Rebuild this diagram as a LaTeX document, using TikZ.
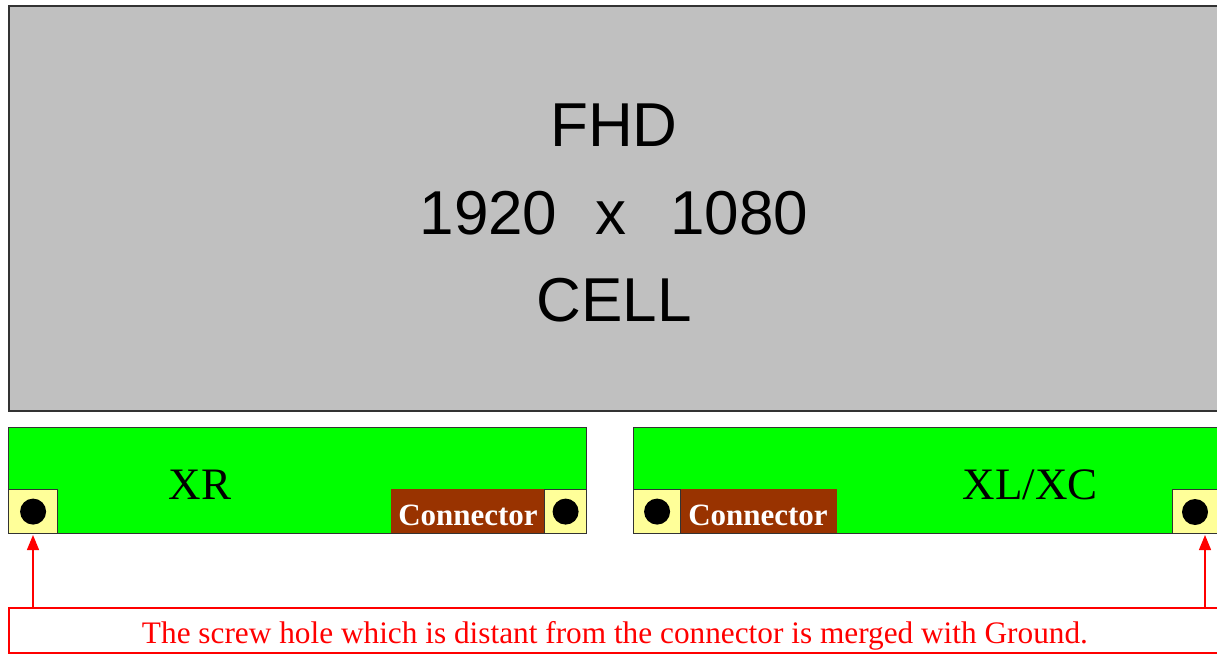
\documentclass[tikz,border=0pt]{standalone}
\usepackage{fontspec}
\setmainfont{Liberation Serif}
\newfontfamily\cellfont{Liberation Sans}
\usetikzlibrary{arrows.meta}
\definecolor{cellgray}{HTML}{C0C0C0}
\definecolor{edgegray}{HTML}{333333}
\definecolor{boardgreen}{HTML}{00FF00}
\definecolor{connbrown}{HTML}{993300}
\definecolor{holeyellow}{HTML}{FFFF99}
\definecolor{notered}{HTML}{FF0000}
\begin{document}
\begin{tikzpicture}[x=1pt,y=-1pt,
  box/.style={draw=edgegray,line width=1.2pt,inner sep=0pt,anchor=north west},
  cellbox/.style={box,fill=cellgray,line width=2pt},
  board/.style={box,fill=boardgreen,minimum height=106pt},
  hole/.style={box,fill=holeyellow,minimum height=44pt},
  conn/.style={fill=connbrown,inner sep=0pt,anchor=north west,minimum height=44pt},
  connlbl/.style={text=white,inner sep=0pt,font=\bfseries\fontsize{31}{31}\selectfont},
  dot/.style={circle,fill=black,inner sep=0pt,minimum size=26pt},
  celltext/.style={font=\cellfont\fontsize{62}{62}\selectfont},
  boardtext/.style={font=\fontsize{45}{45}\selectfont},
  notebox/.style={draw=notered,line width=2pt,inner sep=0pt,anchor=north west,minimum height=45pt},
  pointer/.style={draw=notered,line width=1.3pt,-{Triangle[length=15pt,width=12pt]}}
]
\useasboundingbox (0,0) rectangle (1217,655);
\clip (0,0) rectangle (1217,655);
\fill[white] (0,0) rectangle (1217,655);
% cell
\node[cellbox,minimum width=1230pt,minimum height=405pt] (cell) at (8,5) {};
\node[celltext] (fhd) at (614,125) {FHD};
\node[celltext] (res) at (614,213) {1920\hspace{38pt}x\hspace{44pt}1080};
\node[celltext] (celllbl) at (614,300) {CELL};
% left board XR
\node[board,minimum width=578pt] (xr) at (8,427) {};
\node[boardtext] (xrlbl) at (200,485) {XR};
\node[conn,minimum width=153pt] (connl) at (391,489) {};
\node[connlbl,anchor=base] (connltext) at (468,525) {Connector};
\node[hole,minimum width=49pt] (hl) at (8,489) {};
\node[dot] (dl) at (hl.center) {};
\node[hole,minimum width=42pt] (hcl) at (544,489) {};
\node[dot] (dcl) at (hcl.center) {};
% right board XL/XC
\node[board,minimum width=600pt] (xl) at (633,427) {};
\node[boardtext] (xllbl) at (1030,485) {XL/XC};
\node[conn,minimum width=157pt] (connr) at (680,489) {};
\node[connlbl,anchor=base] (connrtext) at (758,525) {Connector};
\node[hole,minimum width=47pt] (hcr) at (633,489) {};
\node[dot] (dcr) at (hcr.center) {};
\node[hole,minimum width=60pt] (hr) at (1172,489) {};
\node[dot] (dr) at (1195,512) {};
% note
\node[notebox,minimum width=1220pt] (note) at (8,607) {};
\node[text=notered,inner sep=0pt,anchor=base,font=\fontsize{31.3}{31.3}\selectfont] (notetext) at (615,643) {The screw hole which is distant from the connector is merged with Ground.};
\coordinate (tl) at (33,535);
\coordinate (tr) at (1205,535);
\draw[pointer] (note.north -| tl) -- (tl);
\draw[pointer] (note.north -| tr) -- (tr);
\end{tikzpicture}
\end{document}
